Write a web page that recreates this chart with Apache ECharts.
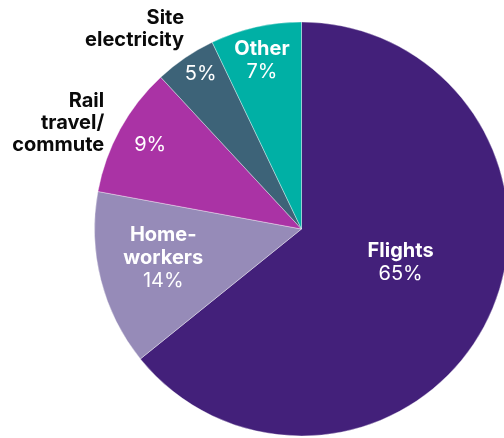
<!DOCTYPE html>
<html><head><meta charset="utf-8">
<script src="https://cdn.jsdelivr.net/npm/echarts@6/dist/echarts.min.js"></script>
<style>html,body{margin:0;padding:0;background:#fff}#c{width:504px;height:438px}</style>
</head><body><div id="c"></div>
<script>
const categories = ['Flights', 'Home-workers', 'Rail travel/commute', 'Site electricity', 'Other'];
const labelLines = [['Flights'], ['Home-', 'workers'], ['Rail', 'travel/', 'commute'], ['Site', 'electricity'], ['Other']];
const values = [64.2, 13.7, 10.2, 4.8, 7.1];
// percentages as printed on the chart
const pctLabels = ['65%', '14%', '9%', '5%', '7%'];
const colors = ['#43207A', '#968BB8', '#AA33A5', '#3D6378', '#00B0A5'];
const insideName = [true, true, false, false, true];

const FONT = 'Inter, "Noto Sans", sans-serif';
const innerOffsets = [[3, -12], [-35, 3], [-58, -33], [-41, -67], [-16, -65]];
const outerOffsets = [null, null, [-150, -55], [-107, -112], null];

const chart = echarts.init(document.getElementById('c'));
const mainData = categories.map((c, i) => ({
  name: c, value: values[i],
  itemStyle: { color: colors[i] },
  label: {
    position: 'inside',
    offset: innerOffsets[i],
    formatter: (insideName[i] ? labelLines[i].map(l => '{b|' + l + '}').join('\n') + '\n' : '') + '{p|' + pctLabels[i] + '}'
  }
}));
const outerData = categories.map((c, i) => ({
  name: c, value: values[i],
  itemStyle: { color: 'rgba(0,0,0,0)' },
  label: insideName[i] ? { show: false } : {
    show: true,
    position: 'inside',
    offset: outerOffsets[i],
    formatter: labelLines[i].map(l => '{n|' + l + '}').join('\n')
  }
}));
chart.setOption({
  backgroundColor: '#fff',
  animation: false,
  series: [{
    type: 'pie',
    center: [301.5, 229],
    radius: 207,
    startAngle: 90,
    clockwise: true,
    silent: true,
    itemStyle: { borderColor: 'rgba(255,255,255,0.6)', borderWidth: 0.6 },
    label: {
      show: true,
      color: '#fff',
      lineHeight: 23,
      rich: {
        b: { fontFamily: FONT, fontSize: 20, fontWeight: 'bold', color: '#fff', lineHeight: 23 },
        p: { fontFamily: FONT, fontSize: 20, fontWeight: 'normal', color: '#fff', lineHeight: 23 }
      }
    },
    labelLine: { show: false },
    data: mainData
  }, {
    type: 'pie',
    center: [301.5, 229],
    radius: 207,
    startAngle: 90,
    clockwise: true,
    silent: true,
    itemStyle: { borderWidth: 0 },
    label: {
      show: true,
      lineHeight: 22,
      rich: {
        n: { fontFamily: FONT, fontSize: 20, fontWeight: 'bold', color: '#0a0a0a', lineHeight: 22, align: 'right' }
      }
    },
    labelLine: { show: false },
    data: outerData
  }]
});
</script></body></html>
